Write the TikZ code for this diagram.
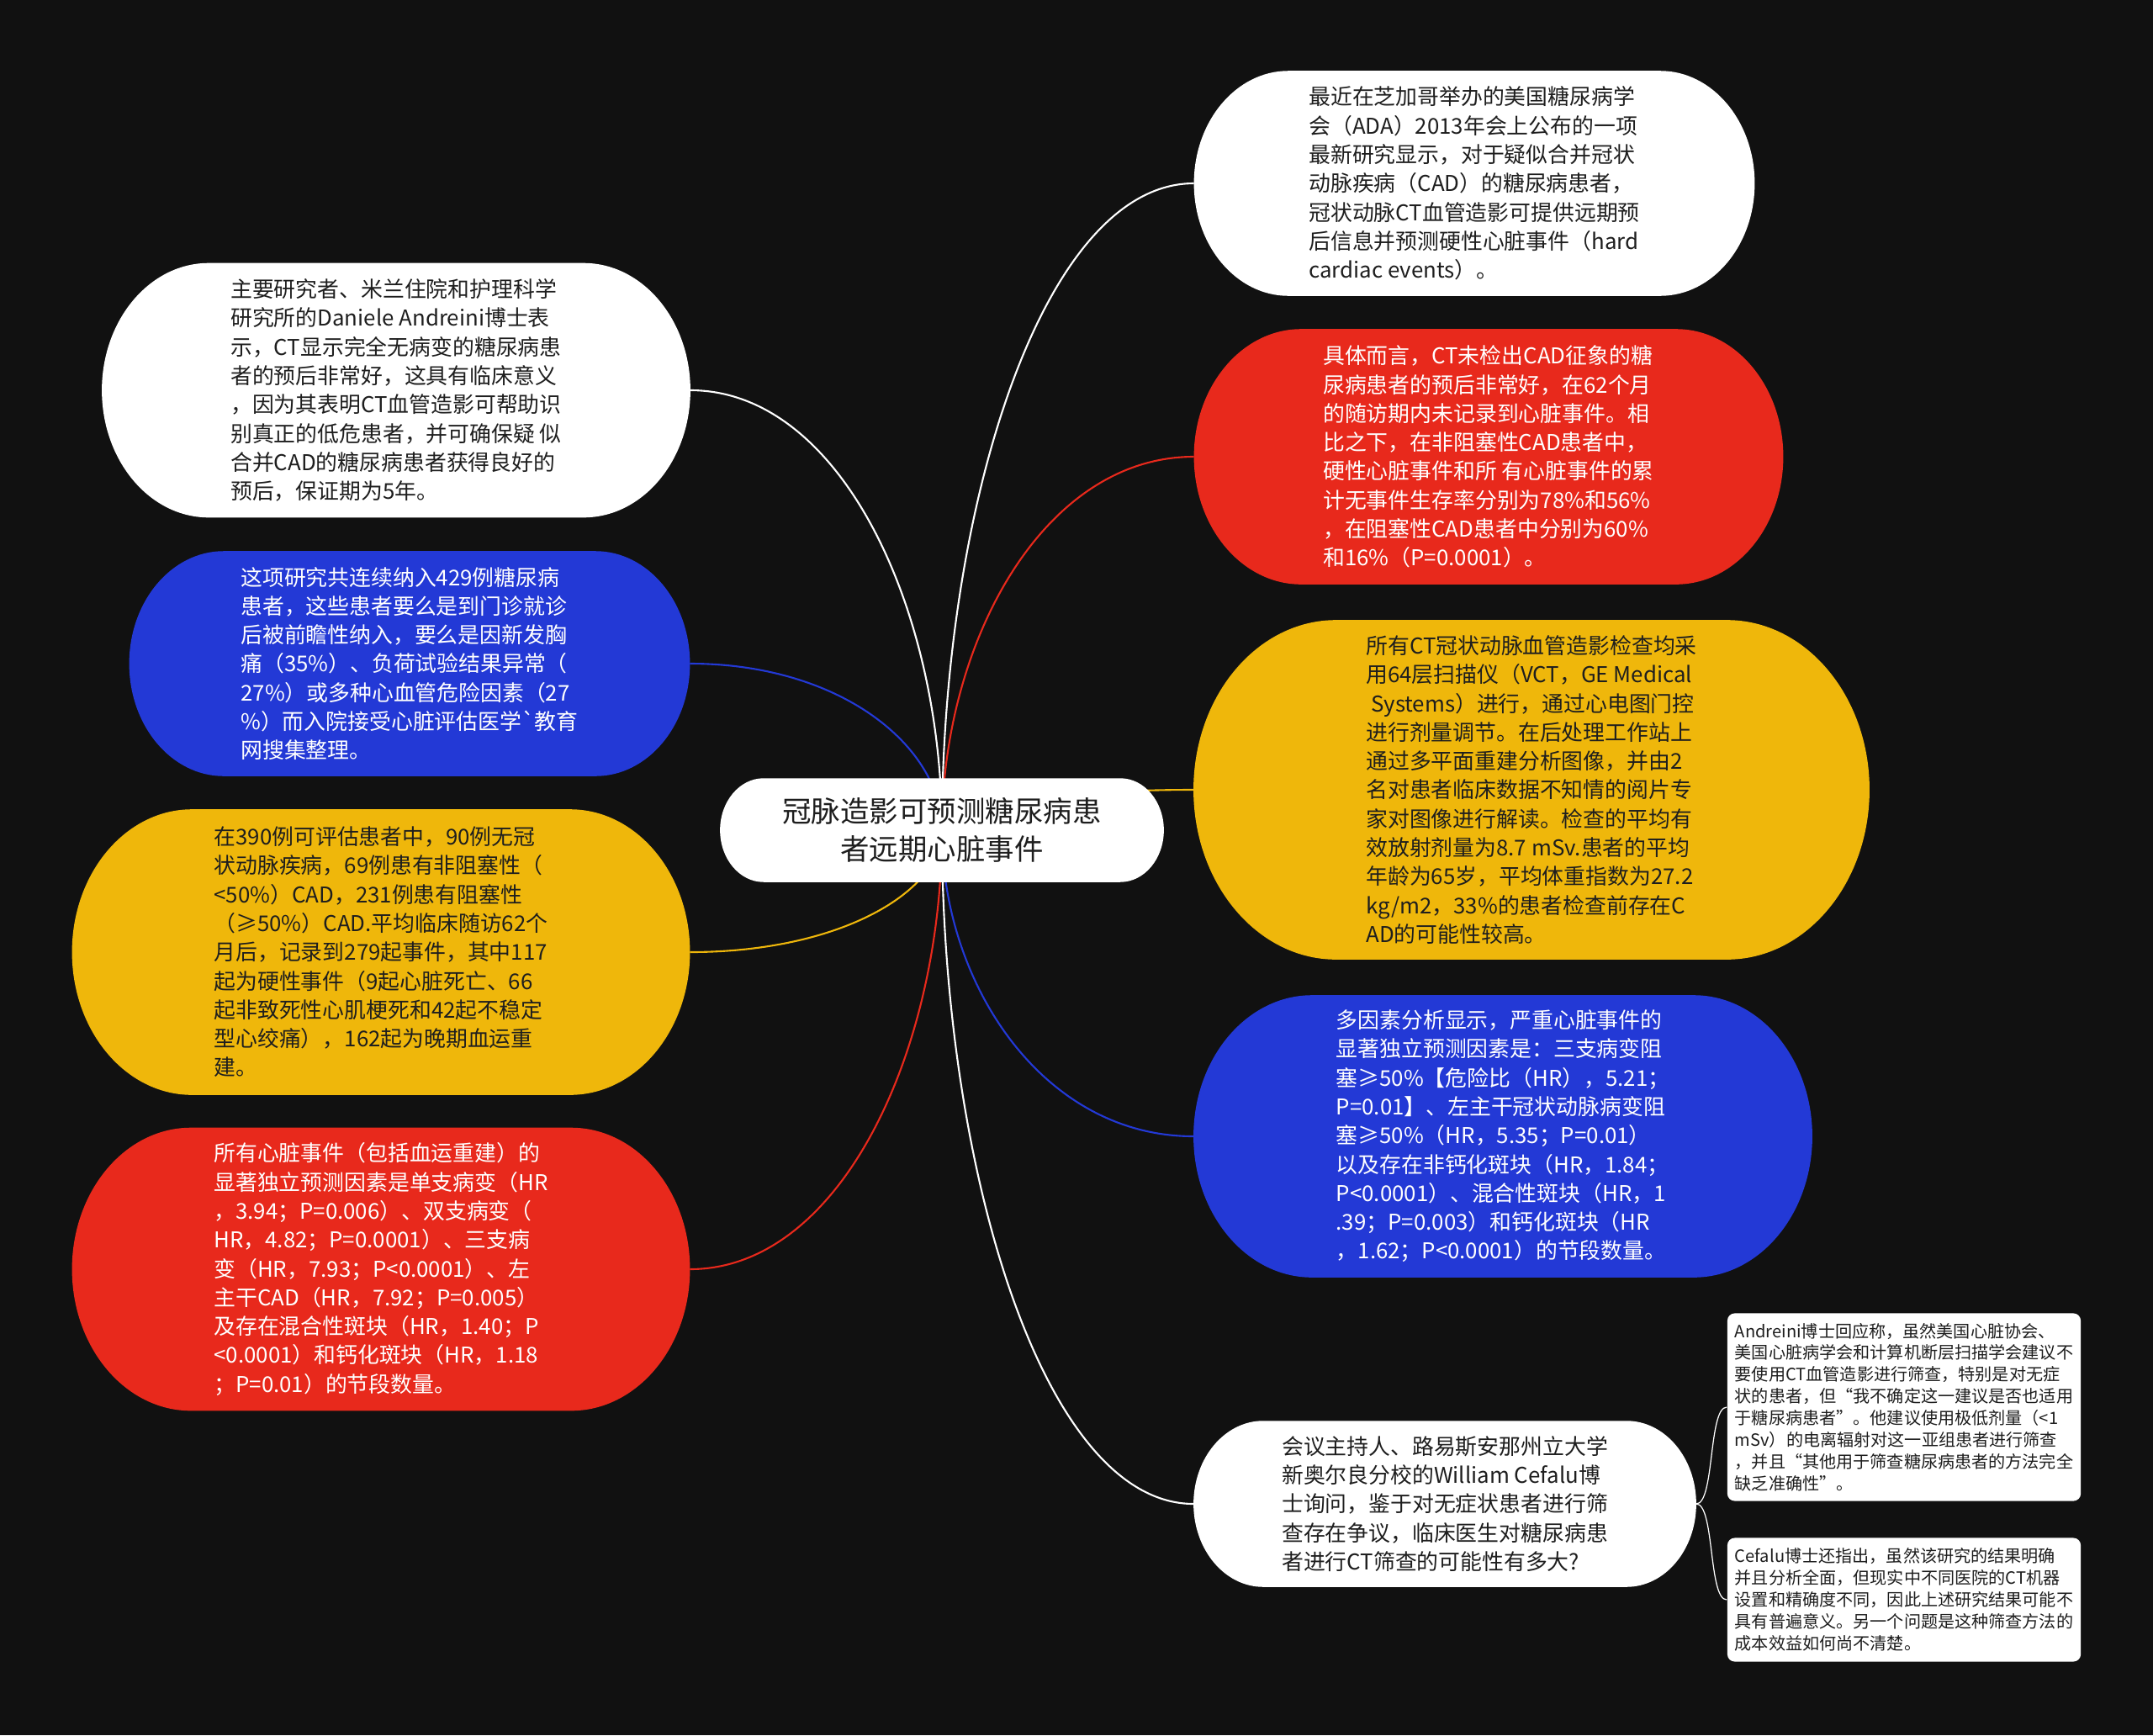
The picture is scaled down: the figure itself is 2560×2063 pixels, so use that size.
\documentclass[tikz,border=0pt]{standalone}
\usepackage{fontspec}
\setmainfont{Noto Sans CJK SC}[Ligatures=TeXOff]
\usetikzlibrary{calc, backgrounds}

\definecolor{bgdark}{HTML}{111111}
\definecolor{ink}{HTML}{1E1E1E}
\definecolor{mred}{HTML}{E8291C}
\definecolor{myellow}{HTML}{EFB70B}
\definecolor{mblue}{HTML}{2339D6}

\begin{document}
\begin{tikzpicture}[x=0.01cm, y=-0.01cm,
	leaf/.style={inner sep=0pt, align=left, font=\fontsize{7.35}{9.75}\selectfont},
	note/.style={leaf, fill=white, text=ink, rounded corners=2.5pt, minimum width=4.2cm,
		font=\fontsize{5.72}{7.37}\selectfont},
	wire/.style={line width=0.6pt},
	twig/.style={line width=0.35pt, white}]
	\def\pill#1#2{\fill[#2] let \p1=(#1.north west), \p2=(#1.south east),
		\n1={(\y1-\y2)/2}, \n2={0.84*(\y1-\y2)/2} in
		(\x1+\n2,\y1) -- (\x2-\n2,\y1)
		arc[start angle=90, end angle=-90, x radius=\n2*1pt, y radius=\n1*1pt]
		-- (\x1+\n2,\y2)
		arc[start angle=270, end angle=90, x radius=\n2*1pt, y radius=\n1*1pt] -- cycle;}
	\def\link#1#2#3{\draw[wire, #1] (root.center) .. controls ($(root.center)!.5!(root.center |- #2.#3)$)
		and ($(#2.#3)!.6!(root.center |- #2.#3)$) .. (#2.#3);}
	\useasboundingbox (0,0) rectangle (2560,2063);

	% root
	\node[inner sep=0pt, align=center, text=ink, minimum width=5.26cm, minimum height=1.22cm,
		font=\fontsize{9.8}{13}\selectfont] (root) at (1120,987)
		{冠脉造影可预测糖尿病患\\者远期心脏事件};

	% left side
	\node[leaf, text=ink, minimum width=6.98cm, minimum height=3.01cm] (l1) at (471,464)
		{主要研究者、米兰住院和护理科学\\研究所的Daniele Andreini博士表\\示，CT显示完全无病变的糖尿病患\\者的预后非常好，这具有临床意义\\，因为其表明CT血管造影可帮助识\\别真正的低危患者，并可确保疑 似\\合并CAD的糖尿病患者获得良好的\\预后，保证期为5年。};
	\node[leaf, text=white, minimum width=6.65cm, minimum height=2.66cm] (l2) at (487,789)
		{这项研究共连续纳入429例糖尿病\\患者，这些患者要么是到门诊就诊\\后被前瞻性纳入，要么是因新发胸\\痛（35\%）、负荷试验结果异常（\\27\%）或多种心血管危险因素（27\\\%）而入院接受心脏评估医学`教育\\网搜集整理。};
	\node[leaf, text=ink, minimum width=7.33cm, minimum height=3.38cm] (l3) at (453,1132)
		{在390例可评估患者中，90例无冠\\状动脉疾病，69例患有非阻塞性（\\<50\%）CAD，231例患有阻塞性\\（≥50\%）CAD.平均临床随访62个\\月后，记录到279起事件，其中117\\起为硬性事件（9起心脏死亡、66\\起非致死性心肌梗死和42起不稳定\\型心绞痛），162起为晚期血运重\\建。};
	\node[leaf, text=white, minimum width=7.33cm, minimum height=3.35cm] (l4) at (453,1509)
		{所有心脏事件（包括血运重建）的\\显著独立预测因素是单支病变（HR\\，3.94；P=0.006）、双支病变（\\HR，4.82；P=0.0001）、三支病\\变（HR，7.93；P<0.0001）、左\\主干CAD（HR，7.92；P=0.005）\\及存在混合性斑块（HR，1.40；P\\<0.0001）和钙化斑块（HR，1.18\\；P=0.01）的节段数量。};

	% right side
	\node[leaf, text=ink, minimum width=6.65cm, minimum height=2.66cm] (r1) at (1753,218)
		{最近在芝加哥举办的美国糖尿病学\\会（ADA）2013年会上公布的一项\\最新研究显示，对于疑似合并冠状\\动脉疾病（CAD）的糖尿病患者，\\冠状动脉CT血管造影可提供远期预\\后信息并预测硬性心脏事件（hard\\cardiac events）。};
	\node[leaf, text=white, minimum width=6.99cm, minimum height=3.02cm] (r2) at (1770,543)
		{具体而言，CT未检出CAD征象的糖\\尿病患者的预后非常好，在62个月\\的随访期内未记录到心脏事件。相\\比之下，在非阻塞性CAD患者中，\\硬性心脏事件和所 有心脏事件的累\\计无事件生存率分别为78\%和56\%\\，在阻塞性CAD患者中分别为60\%\\和16\%（P=0.0001）。};
	\node[leaf, text=ink, minimum width=8.02cm, minimum height=4.02cm] (r3) at (1821,939)
		{所有CT冠状动脉血管造影检查均采\\用64层扫描仪（VCT，GE Medical\\\ Systems）进行，通过心电图门控\\进行剂量调节。在后处理工作站上\\通过多平面重建分析图像，并由2\\名对患者临床数据不知情的阅片专\\家对图像进行解读。检查的平均有\\效放射剂量为8.7 mSv.患者的平均\\年龄为65岁，平均体重指数为27.2\\kg/m2，33\%的患者检查前存在C\\AD的可能性较高。};
	\node[leaf, text=white, minimum width=7.34cm, minimum height=3.34cm] (r4) at (1787,1351)
		{多因素分析显示，严重心脏事件的\\显著独立预测因素是：三支病变阻\\塞≥50\%【危险比（HR），5.21；\\P=0.01】、左主干冠状动脉病变阻\\塞≥50\%（HR，5.35；P=0.01）\\以及存在非钙化斑块（HR，1.84；\\P<0.0001）、混合性斑块（HR，1\\.39；P=0.003）和钙化斑块（HR\\，1.62；P<0.0001）的节段数量。};
	\node[leaf, text=ink, minimum width=5.96cm, minimum height=1.96cm] (r5) at (1718,1788)
		{会议主持人、路易斯安那州立大学\\新奥尔良分校的William Cefalu博\\士询问，鉴于对无症状患者进行筛\\查存在争议，临床医生对糖尿病患\\者进行CT筛查的可能性有多大?};

	% notes on the last branch
	\node[note, minimum height=2.23cm] (s1) at (2264,1673)
		{Andreini博士回应称，虽然美国心脏协会、\\美国心脏病学会和计算机断层扫描学会建议不\\要使用CT血管造影进行筛查，特别是对无症\\状的患者，但“我不确定这一建议是否也适用\\于糖尿病患者”。他建议使用极低剂量（<1\\mSv）的电离辐射对这一亚组患者进行筛查\\，并且“其他用于筛查糖尿病患者的方法完全\\缺乏准确性”。};
	\node[note, minimum height=1.47cm] (s2) at (2264,1902)
		{Cefalu博士还指出，虽然该研究的结果明确\\并且分析全面，但现实中不同医院的CT机器\\设置和精确度不同，因此上述研究结果可能不\\具有普遍意义。另一个问题是这种筛查方法的\\成本效益如何尚不清楚。};

	\begin{scope}[on background layer]
		\fill[bgdark] (0,0) rectangle (2560,2063);
		\link{white}{l1}{east}
		\link{mblue}{l2}{east}
		\link{myellow}{l3}{east}
		\link{mred}{l4}{east}
		\link{white}{r1}{west}
		\link{mred}{r2}{west}
		\link{myellow}{r3}{west}
		\link{mblue}{r4}{west}
		\link{white}{r5}{west}
		\draw[twig] (r5.east) .. controls +(22,0) and +(-22,0) .. (s1.west);
		\draw[twig] (r5.east) .. controls +(22,0) and +(-22,0) .. (s2.west);
		\pill{root}{white}
		\pill{l1}{white}
		\pill{l2}{mblue}
		\pill{l3}{myellow}
		\pill{l4}{mred}
		\pill{r1}{white}
		\pill{r2}{mred}
		\pill{r3}{myellow}
		\pill{r4}{mblue}
		\pill{r5}{white}
	\end{scope}
\end{tikzpicture}
\end{document}
